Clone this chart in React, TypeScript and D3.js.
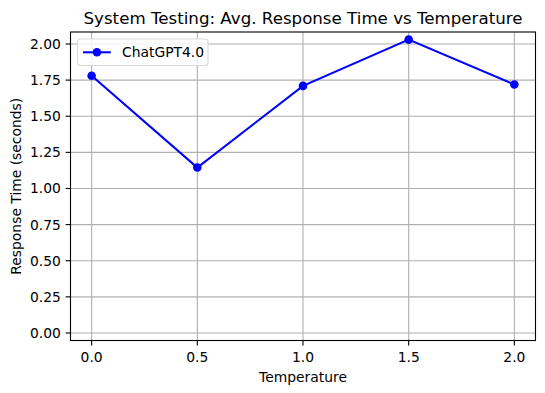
import React from "react";
import * as d3 from "d3";

const temperatures = [0.0, 0.5, 1.0, 1.5, 2.0];
const responseTimes = [1.78, 1.145, 1.71, 2.03, 1.72];
const xTicks = [0.0, 0.5, 1.0, 1.5, 2.0];
const yTicks = [0, 0.25, 0.5, 0.75, 1.0, 1.25, 1.5, 1.75, 2.0];
const seriesName = "ChatGPT4.0";

const W = 545, H = 393;
const L = 70.5, R = 535.5, T = 32, B = 340.5;
const FONT = "DejaVu Sans, sans-serif";
const FS = 13.89;

export default function App() {
  const x = d3.scaleLinear().domain([-0.1, 2.1]).range([L, R]);
  const y = d3.scaleLinear().domain([-0.052, 2.083]).range([B, T]);
  const line = d3.line<number>().x((_, i) => x(temperatures[i])).y((d) => y(d));
  return (
    <svg width={W} height={H} style={{ position: "absolute", left: 0, top: 0 }} fontFamily={FONT}>
      <rect x={0} y={0} width={W} height={H} fill="#fff" />
      {xTicks.map((t) => (
        <line key={"gx" + t} x1={x(t)} x2={x(t)} y1={T} y2={B} stroke="#b0b0b0" strokeWidth={1.1} />
      ))}
      {yTicks.map((t) => (
        <line key={"gy" + t} x1={L} x2={R} y1={y(t)} y2={y(t)} stroke="#b0b0b0" strokeWidth={1.1} />
      ))}
      <path d={line(responseTimes) || ""} fill="none" stroke="#0000ff" strokeWidth={2.08} />
      {responseTimes.map((v, i) => (
        <circle key={i} cx={x(temperatures[i])} cy={y(v)} r={4.3} fill="#0000ff" />
      ))}
      <rect x={L} y={T} width={R - L} height={B - T} fill="none" stroke="#000" strokeWidth={1.1} />
      {xTicks.map((t) => (
        <g key={"tx" + t}>
          <line x1={x(t)} x2={x(t)} y1={B} y2={B + 4.9} stroke="#000" strokeWidth={1.1} />
          <text x={x(t)} y={B + 21} fontSize={FS} textAnchor="middle" fill="#000">{d3.format(".1f")(t)}</text>
        </g>
      ))}
      {yTicks.map((t) => (
        <g key={"ty" + t}>
          <line x1={L - 4.9} x2={L} y1={y(t)} y2={y(t)} stroke="#000" strokeWidth={1.1} />
          <text x={L - 9.7} y={y(t)} dy="0.36em" fontSize={FS} textAnchor="end" fill="#000">{d3.format(".2f")(t)}</text>
        </g>
      ))}
      <text x={(L + R) / 2} y={382} fontSize={FS} textAnchor="middle" fill="#000">Temperature</text>
      <text transform={`translate(21,${(T + B) / 2}) rotate(-90)`} fontSize={FS} textAnchor="middle" fill="#000">Response Time (seconds)</text>
      <text x={(L + R) / 2} y={23.5} fontSize={16.67} textAnchor="middle" fill="#000">System Testing: Avg. Response Time vs Temperature</text>
      <g>
        <rect x={77.5} y={39} width={130.5} height={26.5} rx={3} fill="#fff" fillOpacity={0.8} stroke="#d9d9d9" strokeWidth={1.1} />
        <line x1={83} x2={110.8} y1={52.3} y2={52.3} stroke="#0000ff" strokeWidth={2.08} />
        <circle cx={96.9} cy={52.3} r={4.3} fill="#0000ff" />
        <text x={122} y={52.3} dy="0.36em" fontSize={FS} fill="#000">{seriesName}</text>
      </g>
    </svg>
  );
}
